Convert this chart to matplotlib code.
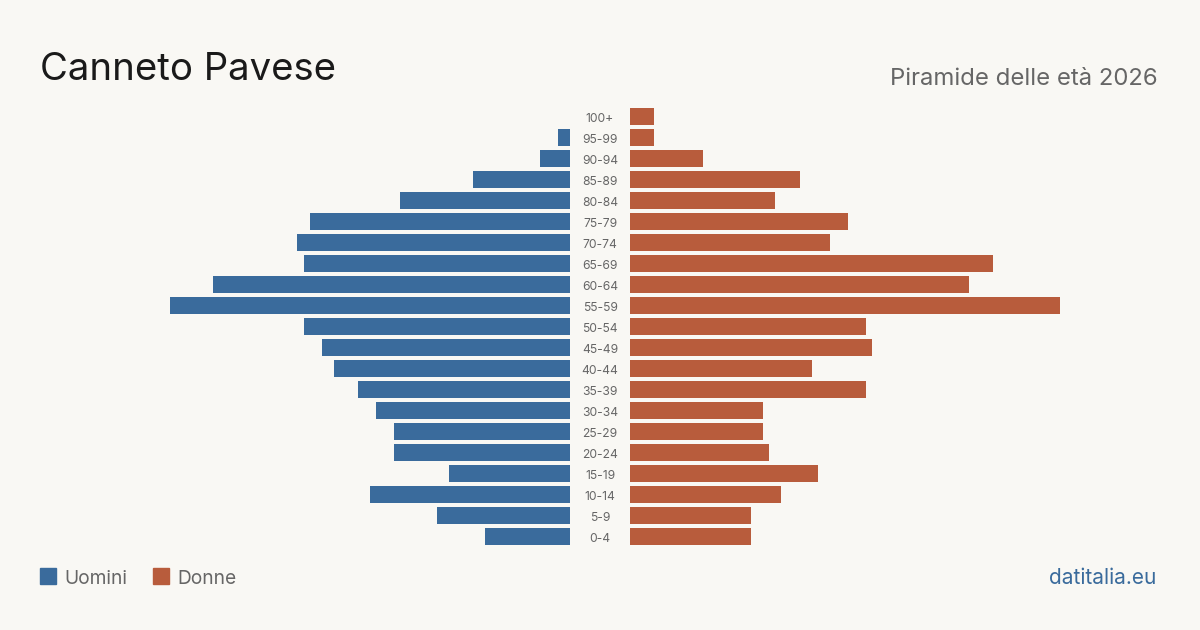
import matplotlib.pyplot as plt
import numpy as np

plt.rcParams['font.family'] = ['Inter', 'DejaVu Sans']

# age classes from youngest to oldest
ages = ['0-4', '5-9', '10-14', '15-19', '20-24', '25-29', '30-34', '35-39',
        '40-44', '45-49', '50-54', '55-59', '60-64', '65-69', '70-74',
        '75-79', '80-84', '85-89', '90-94', '95-99', '100+']
men = [14, 22, 33, 20, 29, 29, 32, 35, 39, 41, 44, 66, 59, 44, 45, 43, 28, 16, 5, 2, 0]
women = [20, 20, 25, 31, 23, 22, 22, 39, 30, 40, 39, 71, 56, 60, 33, 36, 24, 28, 12, 4, 4]

bg = '#f9f8f4'
blue = '#3a6b9c'
orange = '#b85c3c'
grey = '#666666'

W, H = 1200, 630
fig = plt.figure(figsize=(12, 6.3), dpi=100, facecolor=bg)

xmax = max(max(men), max(women))
top, bottom = 106, 547
ax_w = 430
axl = fig.add_axes([(570 - ax_w) / W, (H - bottom) / H, ax_w / W, (bottom - top) / H])
axr = fig.add_axes([630 / W, (H - bottom) / H, ax_w / W, (bottom - top) / H])

y = np.arange(len(ages))
axl.barh(y, men, height=0.81, color=blue)
axr.barh(y, women, height=0.81, color=orange)
axl.set_xlim(xmax, 0)
axr.set_xlim(0, xmax)
for ax in (axl, axr):
    ax.set_ylim(-0.5, len(ages) - 0.5)
    ax.axis('off')

# age labels in the gap between the two sides
for i, a in enumerate(ages):
    axr.annotate(a, xy=(0, i), xytext=(-30, -1), textcoords='offset pixels',
                 ha='center', va='center_baseline', fontsize=8.7, color=grey)

fig.text(40 / W, 1 - 80 / H, 'Canneto Pavese', fontsize=27.6, color='#1a1a1a',
         ha='left', va='baseline')
fig.text(1158 / W, 1 - 85 / H, 'Piramide delle età 2026', fontsize=17.2,
         color=grey, ha='right', va='baseline')

# legend
fig.patches.append(plt.Rectangle((40 / W, 1 - 584 / H), 16 / W, 16 / H,
                                 transform=fig.transFigure, color=blue))
fig.text(64 / W, 1 - 584 / H, 'Uomini', fontsize=13.8, color=grey, va='baseline')
fig.patches.append(plt.Rectangle((153 / W, 1 - 584 / H), 16 / W, 16 / H,
                                 transform=fig.transFigure, color=orange))
fig.text(177 / W, 1 - 584 / H, 'Donne', fontsize=13.8, color=grey, va='baseline')

fig.text(1156 / W, 1 - 584 / H, 'datitalia.eu', fontsize=15, color=blue,
         ha='right', va='baseline')

fig.savefig('out.png', dpi=100, facecolor=bg)
